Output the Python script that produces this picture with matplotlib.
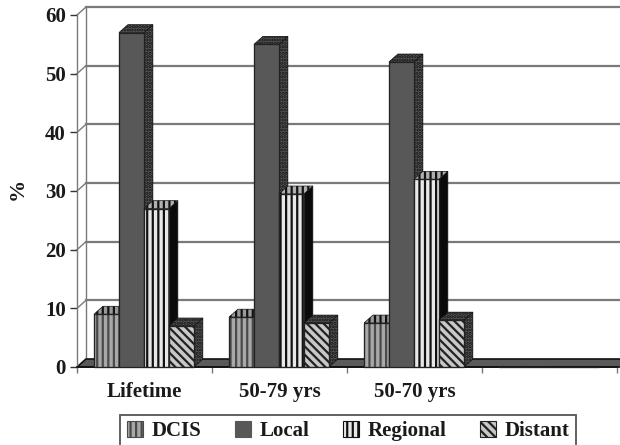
#!/usr/bin/env python3

import matplotlib
matplotlib.use("Agg")
import matplotlib.pyplot as plt

categories = ["Lifetime", "50-79 yrs", "50-70 yrs", ""]
dcis = [9, 8.5, 7.5, 0]
local = [57, 55, 52, 0]
regional = [27, 29.5, 32, 0]
distant = [7, 7.5, 8, 0]
yticks = [0, 10, 20, 30, 40, 50, 60]

plt.rcParams['font.family'] = ['Liberation Serif', 'DejaVu Serif']
plt.rcParams['font.weight'] = 'bold'
plt.rcParams['hatch.linewidth'] = 1.6

W, H = 620, 445
fig = plt.figure(figsize=(W / 100, H / 100), dpi=100)
ax = fig.add_axes([77 / W, 1 - 367 / H, 540 / W, 352 / H])
ax.set_xlim(0, 4)
ax.set_ylim(0, 60)

# depth of the fake 3d
dx = 0.066
dy = 1.35

grid_col = '#7a7a7a'

# back wall
for v in yticks[1:]:
    ax.plot([dx, 4 + dx], [v + dy, v + dy], color=grid_col, lw=1.6, clip_on=False, zorder=1)
    ax.plot([0, dx], [v, v + dy], color=grid_col, lw=1.0, clip_on=False, zorder=1)
ax.plot([dx, dx], [dy, 60 + dy], color=grid_col, lw=1.0, clip_on=False, zorder=1)

# floor
ax.fill([0, 4 + dx, 4 + dx, dx], [0, 0, dy, dy], facecolor='#5a5a5a', edgecolor='#111111',
        lw=1.2, clip_on=False, zorder=2)

# name, values, face, hatch colour, hatch, side face, side hatch, top face, top hatch
series = [
    ("DCIS", dcis, '#a8a8a8', '#4a4a4a', '|||', '#444444', None, '#9a9a9a', '|||'),
    ("Local", local, '#585858', '#585858', None, '#5a5a5a', '.....', '#5a5a5a', '.....'),
    ("Regional", regional, '#e8e8e8', '#111111', '|||', '#0a0a0a', None, '#b0b0b0', '|||'),
    ("Distant", distant, '#c8c8c8', '#222222', '\\\\\\\\', '#5a5a5a', '.....', '#5a5a5a', '.....'),
]

bar_w = 0.185
start = 0.126
z = 3
for n, (name, vals, face, hcol, hatch, side_col, side_hatch, top_col, top_hatch) in enumerate(series):
    xs = [i + start + n * bar_w + bar_w / 2 for i in range(len(vals))]
    for x, v in zip(xs, vals):
        if v == 0:
            continue
        r = x + bar_w / 2
        l = x - bar_w / 2
        ax.fill([r, r + dx, r + dx, r], [0, dy, v + dy, v], facecolor=side_col, edgecolor='#111111',
                hatch=side_hatch, lw=0.5, clip_on=False, zorder=z)
        ax.fill([l, l + dx, r + dx, r], [v, v + dy, v + dy, v], facecolor=top_col, edgecolor='#111111',
                hatch=top_hatch, lw=0.5, clip_on=False, zorder=z)
    ax.bar(xs, vals, width=bar_w, color=face, edgecolor=hcol, hatch=hatch, lw=0.8,
           label=name, zorder=z + 1, clip_on=False)
    # keep the bar outline dark over the hatch colour
    ax.bar(xs, vals, width=bar_w, fill=False, edgecolor='#222222', lw=0.9, zorder=z + 2, clip_on=False)
    z += 3

for s in ['top', 'right']:
    ax.spines[s].set_visible(False)
ax.spines['left'].set_color(grid_col)
ax.spines['left'].set_linewidth(1.0)
ax.spines['bottom'].set_color('#111111')
ax.spines['bottom'].set_linewidth(1.2)

ax.set_yticks(yticks)
ax.tick_params(axis='y', length=5, width=1.0, color='#333333', pad=3, labelsize=15)
ax.set_xticks(range(5))
ax.set_xticklabels([])
ax.tick_params(axis='x', which='major', length=4, width=1.0, color='#777777')
ax.set_xticks([i + 0.5 for i in range(4)], minor=True)
ax.set_xticklabels(categories, minor=True, fontsize=15)
ax.tick_params(axis='x', which='minor', length=0, pad=10.5)
for t in ax.get_yticklabels() + ax.get_xticklabels(minor=True):
    t.set_color('#1a1a1a')

fig.text(18 / W, 1 - 189 / H, "%", rotation=90, fontsize=16, ha='center', va='center', color='#1a1a1a')

handles, labels = ax.get_legend_handles_labels()
leg = fig.legend(handles, labels, ncols=4, loc='lower left', bbox_to_anchor=(120 / W, 1 - 448 / H),
                 bbox_transform=fig.transFigure, borderaxespad=0, fontsize=15, frameon=True,
                 fancybox=False, edgecolor='#555555', framealpha=1, handlelength=0.76, handleheight=0.76,
                 handletextpad=0.42, columnspacing=1.62, borderpad=0.32)
leg.get_frame().set_linewidth(1.3)
for t in leg.get_texts():
    t.set_color('#1a1a1a')

fig.savefig("out.png", dpi=100)
